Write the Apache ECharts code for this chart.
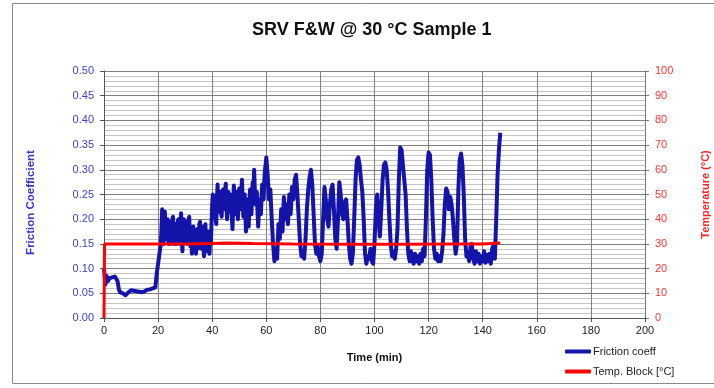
<!DOCTYPE html>
<html>
<head>
<meta charset="utf-8">
<script src="https://cdn.jsdelivr.net/npm/echarts@6/dist/echarts.min.js"></script>
<style>html,body{margin:0;padding:0;background:#fff;}#c{width:714px;height:388px;}</style>
</head>
<body>
<div id="c"></div>
<script>
const chartTitle = 'SRV F&W @ 30 °C Sample 1';
const seriesNames = ['Friction coeff', 'Temp. Block [°C]'];
const xTicks = { min: 0, max: 200, interval: 20 };
const yLeftTicks = { min: 0, max: 0.5, interval: 0.05 };
const yRightTicks = { min: 0, max: 100, interval: 10 };

// Friction coefficient vs time (min)
const frictionRunIn = [
  [0,0.100],[0.5,0.068],[1,0.085],[1.5,0.075],[2,0.080],[2.5,0.078],[3,0.082],[3.5,0.080],[4,0.084],[4.5,0.080],
  [5,0.075],[5.5,0.058],[6,0.052],[6.5,0.055],[7,0.050],[7.5,0.048],[8,0.046],[8.5,0.050],[9,0.052],[9.5,0.050],
  [10,0.056],[10.5,0.058],[11,0.055],[11.5,0.052],[12,0.054],[12.5,0.056],[13,0.053],[13.5,0.055],[14,0.052],[14.5,0.056],
  [15,0.054],[15.5,0.055],[16,0.057],[16.5,0.055],[17,0.058],[17.5,0.056],[18,0.060],[18.5,0.058],[19,0.062],[19.5,0.090],
  [20,0.110],[20.5,0.130],[21,0.150]
];
const frictionStage2 = [
  [21.25,0.180],[21.5,0.220],[21.75,0.165],[22,0.150],[22.25,0.205],[22.5,0.215],[22.75,0.170],[23,0.160],[23.25,0.190],[23.5,0.200],
  [23.75,0.155],[24,0.150],[24.25,0.185],[24.5,0.195],[24.75,0.150],[25,0.165],[25.25,0.200],[25.5,0.205],[25.75,0.160],[26,0.150],
  [26.25,0.185],[26.5,0.190],[26.75,0.150],[27,0.160],[27.25,0.195],[27.5,0.200],[27.75,0.165],[28,0.150],[28.25,0.190],[28.5,0.212],
  [28.75,0.160],[29,0.135],[29.25,0.180],[29.5,0.200],[29.75,0.160],[30,0.155],[30.25,0.190],[30.5,0.195],[30.75,0.150],[31,0.150],
  [31.25,0.200],[31.5,0.205],[31.75,0.165],[32,0.145],[32.25,0.175],[32.5,0.130],[32.75,0.170],[33,0.185],[33.25,0.145],[33.5,0.150],
  [33.75,0.175],[34,0.130],[34.25,0.160],[34.5,0.180],[34.75,0.140],[35,0.150],[35.25,0.190],[35.5,0.195],[35.75,0.150],[36,0.140],
  [36.25,0.175],[36.5,0.185],[36.75,0.140],[37,0.125],[37.25,0.165],[37.5,0.190],[37.75,0.145],[38,0.135],[38.25,0.170],[38.5,0.175],
  [38.75,0.135],[39,0.130],[39.25,0.165],[39.5,0.150],[39.75,0.190],[40,0.230]
];
const frictionStage3 = [
  [40.25,0.250],[40.5,0.210],[40.75,0.225],[41,0.245],[41.25,0.205],[41.5,0.190],[41.75,0.240],[42,0.270],[42.25,0.230],[42.5,0.215],
  [42.75,0.250],[43,0.255],[43.25,0.215],[43.5,0.205],[43.75,0.245],[44,0.260],[44.25,0.230],[44.5,0.220],[44.75,0.255],[45,0.272],
  [45.25,0.230],[45.5,0.200],[45.75,0.235],[46,0.255],[46.25,0.225],[46.5,0.215],[46.75,0.250],[47,0.245],[47.25,0.205],[47.5,0.180],
  [47.75,0.230],[48,0.268],[48.25,0.240],[48.5,0.210],[48.75,0.240],[49,0.255],[49.25,0.220],[49.5,0.200],[49.75,0.245],[50,0.262],
  [50.25,0.235],[50.5,0.220],[50.75,0.255],[51,0.280],[51.25,0.240],[51.5,0.205],[51.75,0.230],[52,0.250],[52.25,0.210],[52.5,0.175],
  [52.75,0.215],[53,0.240],[53.25,0.210],[53.5,0.185],[53.75,0.235],[54,0.260],[54.25,0.230],[54.5,0.210],[54.75,0.250],[55,0.275],
  [55.25,0.255],[55.5,0.300],[55.75,0.260],[56,0.230],[56.25,0.250],[56.5,0.255],[56.75,0.215],[57,0.185],[57.25,0.215],[57.5,0.240],
  [57.75,0.225],[58,0.210],[58.25,0.245],[58.5,0.270],[58.75,0.250],[59,0.240],[59.25,0.275],[59.5,0.300],[59.75,0.310],[60,0.325]
];
const frictionStage4 = [
  [60.5,0.290],[61,0.240],[61.5,0.260],[62,0.200],[62.5,0.150],[63,0.115],[63.5,0.140],[64,0.120],[64.5,0.190],[65,0.160],
  [65.5,0.220],[66,0.175],[66.5,0.245],[67,0.200],[67.5,0.230],[68,0.190],[68.5,0.250],[69,0.210],[69.5,0.265],[70,0.240],
  [70.5,0.280],[71,0.290],[71.5,0.250],[72,0.200],[72.5,0.150],[73,0.125],
  [73.5,0.135],[74,0.120],[74.5,0.160],[75,0.220],[75.5,0.260],[76,0.285],[76.5,0.300],[77,0.270],[77.5,0.210],[78,0.150],
  [78.5,0.130],[79,0.145],[79.5,0.125],[80,0.115],[80.5,0.130],[81,0.200],[81.5,0.265],[82,0.240],[82.5,0.200],[83,0.185],
  [83.5,0.230],[84,0.260],[84.5,0.270],[85,0.220],[85.5,0.160],[86,0.140],[86.5,0.200],[87,0.275],[87.5,0.250],[88,0.210],
  [88.5,0.200],[89,0.235],[89.5,0.240],[90,0.200],[90.5,0.150],[91,0.120],[91.5,0.110],[92,0.130],[92.5,0.200],[93,0.280],
  [93.5,0.320],[94,0.325],[94.5,0.310],[95,0.280],[95.5,0.255],[96,0.200],[96.5,0.130],[97,0.110],[97.5,0.125],[98,0.120],
  [98.5,0.140],[99,0.115],[99.5,0.110],[100,0.150],[100.5,0.220],[101,0.250],[101.5,0.200],[102,0.165],[102.5,0.220],[103,0.280],
  [103.5,0.310],[104,0.315],[104.5,0.300],[105,0.260],[105.5,0.200],[106,0.150],[106.5,0.125],[107,0.135]
];
const frictionStage5 = [
  [107.5,0.120],[108,0.140],[108.5,0.180],[109,0.280],[109.5,0.345],[110,0.340],[110.5,0.310],[111,0.280],[111.5,0.250],[112,0.180],
  [112.5,0.130],[113,0.115],[113.5,0.135],[114,0.120],[114.5,0.110],[115,0.130],[115.5,0.115],[116,0.125],[116.5,0.110],[117,0.130],
  [117.5,0.115],[118,0.140],[118.5,0.125],[119,0.200],[119.5,0.300],[120,0.335],[120.5,0.330],[121,0.280],[121.5,0.200],[122,0.140],
  [122.5,0.120],[123,0.130],[123.5,0.115],[124,0.125],[124.5,0.115],[125,0.135],[125.5,0.170],[126,0.230],[126.5,0.262],[127,0.255],
  [127.5,0.220],[128,0.245],[128.5,0.230],[129,0.200],[129.5,0.160],[130,0.130],[130.5,0.150],[131,0.260],[131.5,0.320],[132,0.333],
  [132.5,0.310],[133,0.250],[133.5,0.160],[134,0.125],[134.5,0.130],[135,0.115],[135.5,0.145],[136,0.150],[136.5,0.120],[137,0.110],
  [137.5,0.135],[138,0.115],[138.5,0.130],[139,0.110],[139.5,0.125],[140,0.115],[140.5,0.135],[141,0.112],[141.5,0.128],[142,0.115],
  [142.5,0.130],[143,0.110],[143.5,0.140],[144,0.148],[144.5,0.120],[145,0.200],[145.5,0.290],[146,0.340],[146.5,0.375]
];
// Temperature block (°C) vs time (min)
const temperature = [
  [0,0],[0.2,30],[10,30],[20,30],[30,30],[40,30.2],[45,30.4],[55,30.2],[70,30],[90,29.9],[110,29.9],[130,30],[140,30],[146.5,30.4]
];

const friction = [].concat(frictionRunIn, frictionStage2, frictionStage3, frictionStage4, frictionStage5);

const FONT = 'Liberation Sans, Arial, sans-serif';
const chart = echarts.init(document.getElementById('c'), null, { renderer: 'canvas' });
chart.setOption({
  animation: false,
  backgroundColor: '#ffffff',
  title: {
    text: chartTitle,
    left: 247, top: 16,
    textStyle: { fontFamily: FONT, fontSize: 18, fontWeight: 'bold', color: '#111' }
  },
  graphic: [{
    type: 'rect', silent: true, z: -1,
    shape: { x: 12.5, y: 3.5, width: 720, height: 380 },
    style: { fill: 'none', stroke: '#8a8a8a', lineWidth: 1 }
  }],
  legend: {
    orient: 'vertical', left: 560, top: 341, itemGap: 9,
    itemWidth: 26, itemHeight: 4, icon: 'roundRect',
    textStyle: { fontFamily: FONT, fontSize: 11, color: '#222', padding: [0, 0, 0, -3] },
    data: seriesNames
  },
  grid: { left: 104, right: 69, top: 71, bottom: 70, containLabel: false, outerBoundsMode: 'none' },
  xAxis: {
    type: 'value', min: xTicks.min, max: xTicks.max, interval: xTicks.interval,
    name: 'Time (min)', nameLocation: 'middle', nameGap: 34,
    nameTextStyle: { fontFamily: FONT, fontSize: 11, fontWeight: 'bold', color: '#111' },
    axisLine: { lineStyle: { color: '#555', width: 1 } },
    axisTick: { show: true, inside: false, length: 4, lineStyle: { color: '#555' } },
    axisLabel: { fontFamily: FONT, fontSize: 11, color: '#222', margin: 7 },
    splitLine: { show: true, lineStyle: { color: '#808080', width: 1 } }
  },
  yAxis: [{
    type: 'value', min: yLeftTicks.min, max: yLeftTicks.max, interval: yLeftTicks.interval,
    name: 'Friction Coefficient', nameLocation: 'middle', nameGap: 67, nameRotate: 90,
    nameTextStyle: { fontFamily: FONT, fontSize: 11.5, fontWeight: 'bold', color: '#3333cc', padding: [0, 16, 0, 0] },
    axisLine: { show: true, lineStyle: { color: '#555', width: 1 } },
    axisTick: { show: true, length: 4, lineStyle: { color: '#555' } },
    axisLabel: { fontFamily: FONT, fontSize: 11, color: '#4040c0', margin: 10,
      formatter: v => v.toFixed(2) },
    splitLine: { show: true, lineStyle: { color: '#808080', width: 1 } },
    minorTick: { show: false, splitNumber: 5 },
    minorSplitLine: { show: true, lineStyle: { color: '#c4c4c4', width: 1 } }
  }, {
    type: 'value', min: yRightTicks.min, max: yRightTicks.max, interval: yRightTicks.interval,
    position: 'right',
    name: 'Temperature (°C)', nameLocation: 'middle', nameGap: 55, nameRotate: 90,
    nameTextStyle: { fontFamily: FONT, fontSize: 11, fontWeight: 'bold', color: '#ff2020' },
    axisLine: { show: true, lineStyle: { color: '#777', width: 1 } },
    axisTick: { show: true, length: 4, lineStyle: { color: '#777' } },
    axisLabel: { fontFamily: FONT, fontSize: 11, color: '#ff3333', margin: 10 },
    splitLine: { show: false }
  }],
  series: [{
    name: seriesNames[0], type: 'line', data: friction, yAxisIndex: 0,
    showSymbol: false, symbol: 'none', sampling: null,
    color: '#1414aa',
    lineStyle: { color: '#1414aa', width: 4, join: 'round' },
    z: 2
  }, {
    name: seriesNames[1], type: 'line', data: temperature, yAxisIndex: 1,
    showSymbol: false, symbol: 'none',
    color: '#ff0000',
    lineStyle: { color: '#ff0000', width: 3 },
    z: 3
  }]
});
</script>
</body>
</html>
